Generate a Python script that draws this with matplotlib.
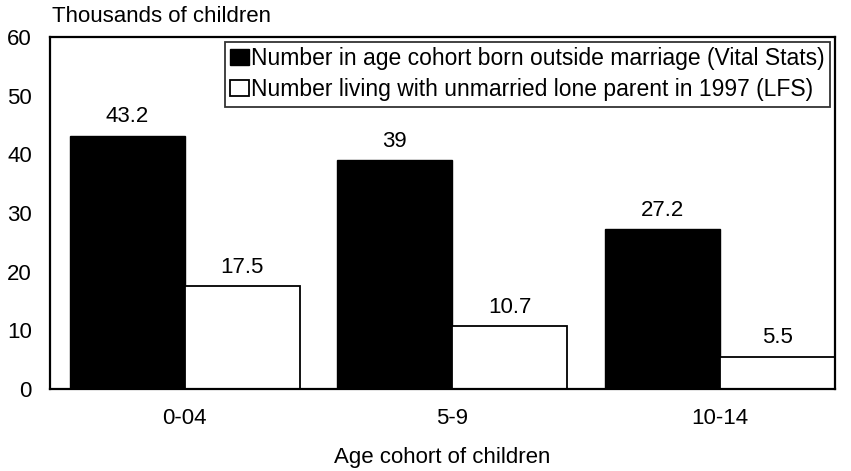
import numpy as np
import matplotlib.pyplot as plt

plt.rcParams['font.family'] = ['Liberation Sans', 'DejaVu Sans']

cohorts = ['0-04', '5-9', '10-14']
born_outside = [43.2, 39, 27.2]
living_unmarried = [17.5, 10.7, 5.5]
labels_born = ['43.2', '39', '27.2']
labels_living = ['17.5', '10.7', '5.5']

fig = plt.figure(figsize=(8.51, 4.71), dpi=100)
ax = fig.add_axes([50 / 851, 1 - 389 / 471, 785 / 851, 352 / 471])

x = np.arange(len(cohorts))
w = 0.43
b1 = ax.bar(x - w / 2, born_outside, w, color='black', edgecolor='black',
            label='Number in age cohort born outside marriage (Vital Stats)')
b2 = ax.bar(x + w / 2, living_unmarried, w, color='white', edgecolor='black', linewidth=1.3,
            label='Number living with unmarried lone parent in 1997 (LFS)')

for rect, lab in zip(b1, labels_born):
    ax.annotate(lab, (rect.get_x() + rect.get_width() / 2, rect.get_height()),
                xytext=(0, 6), textcoords='offset points', ha='center', va='bottom', fontsize=16)
for rect, lab in zip(b2, labels_living):
    ax.annotate(lab, (rect.get_x() + rect.get_width() / 2, rect.get_height()),
                xytext=(0, 6), textcoords='offset points', ha='center', va='bottom', fontsize=16)

ax.set_xlim(-0.504, 2.43)
ax.set_ylim(0, 60)
ax.set_yticks(range(0, 61, 10))
ax.set_xticks(x)
ax.set_xticklabels(cohorts)
ax.tick_params(axis='both', length=0, labelsize=16)
ax.tick_params(axis='x', pad=14)
ax.tick_params(axis='y', pad=13)
for s in ax.spines.values():
    s.set_linewidth(1.6)

ax.set_xlabel('Age cohort of children', fontsize=16, labelpad=13)
fig.text(52 / 851, 1 - 16 / 471, 'Thousands of children', fontsize=16, va='center', ha='left')

leg = ax.legend(loc='upper right', bbox_to_anchor=(1.0, 1.0), fontsize=16.5, frameon=True,
                fancybox=False, edgecolor='black', handlelength=0.8, handleheight=0.7,
                handletextpad=0.1, borderpad=0.25, labelspacing=0.35, borderaxespad=0.2)
leg.get_frame().set_linewidth(1.3)

fig.savefig('out.png', dpi=100)
